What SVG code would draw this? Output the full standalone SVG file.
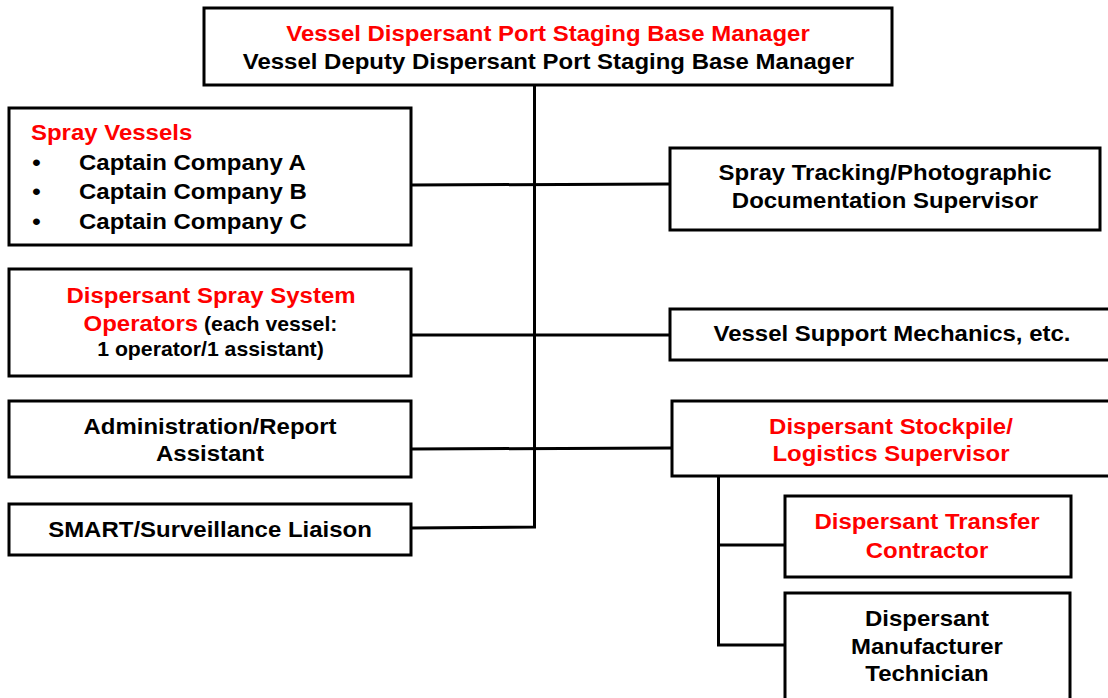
<svg xmlns="http://www.w3.org/2000/svg" width="1108" height="698" viewBox="0 0 1108 698">
  <style>
    .box { fill: #ffffff; stroke: #000000; stroke-width: 3; }
    .link { fill: none; stroke: #000000; stroke-width: 3; }
    text { font-family: "Liberation Sans", Arial, sans-serif; font-weight: bold; font-size: 22px; fill: #000000; }
    .red { fill: #ff0000; }
    .small { font-size: 19.5px; }
    .c { text-anchor: middle; }
  </style>
  <rect width="1108" height="698" fill="#ffffff"/>

  <!-- connectors -->
  <g id="connectors">
    <polyline class="link" points="534.5,85 534.5,527 411,528"/>
    <line class="link" x1="411" y1="185" x2="670" y2="184"/>
    <line class="link" x1="411" y1="335" x2="670" y2="335"/>
    <line class="link" x1="411" y1="449" x2="672" y2="448"/>
    <polyline class="link" points="718.5,476 718.5,645 785,645"/>
    <line class="link" x1="718.5" y1="545" x2="785" y2="545"/>
  </g>

  <!-- labels use a slightly widened face: x positions are divided by 1.09 -->
  <g id="manager">
    <rect class="box" x="204" y="8" width="688" height="77"/>
    <g transform="scale(1.09 1)">
      <text class="c red" x="502.75" y="41">Vessel Dispersant Port Staging Base Manager</text>
      <text class="c" x="503.2" y="69">Vessel Deputy Dispersant Port Staging Base Manager</text>
    </g>
  </g>

  <g id="spray-vessels">
    <rect class="box" x="9" y="108" width="402" height="137"/>
    <g transform="scale(1.09 1)">
      <text class="red" x="28.44" y="140">Spray Vessels</text>
      <text x="29.5" y="170">•</text>
      <text x="72.48" y="170">Captain Company A</text>
      <text x="29.5" y="199">•</text>
      <text x="72.48" y="199">Captain Company B</text>
      <text x="29.5" y="229">•</text>
      <text x="72.48" y="229">Captain Company C</text>
    </g>
  </g>

  <g id="spray-operators">
    <rect class="box" x="9" y="269" width="402" height="107"/>
    <g transform="scale(1.09 1)">
      <text class="c red" x="193.58" y="303">Dispersant Spray System</text>
      <text class="c" x="193.1" y="331"><tspan class="red">Operators</tspan><tspan class="small"> (each vessel:</tspan></text>
      <text class="c small" x="193.1" y="356">1 operator/1 assistant)</text>
    </g>
  </g>

  <g id="admin-assistant">
    <rect class="box" x="9" y="401" width="402" height="76"/>
    <g transform="scale(1.09 1)">
      <text class="c" x="192.66" y="434">Administration/Report</text>
      <text class="c" x="192.66" y="461">Assistant</text>
    </g>
  </g>

  <g id="smart-liaison">
    <rect class="box" x="9" y="504" width="402" height="51"/>
    <g transform="scale(1.09 1)">
      <text class="c" x="192.66" y="537">SMART/Surveillance Liaison</text>
    </g>
  </g>

  <g id="spray-tracking">
    <rect class="box" x="670" y="148" width="430" height="82"/>
    <g transform="scale(1.09 1)">
      <text class="c" x="811.93" y="180">Spray Tracking/Photographic</text>
      <text class="c" x="811.93" y="208">Documentation Supervisor</text>
    </g>
  </g>

  <g id="support-mechanics">
    <rect class="box" x="670" y="309" width="445" height="51"/>
    <g transform="scale(1.09 1)">
      <text class="c" x="818.35" y="341">Vessel Support Mechanics, etc.</text>
    </g>
  </g>

  <g id="stockpile-supervisor">
    <rect class="box" x="672" y="401" width="443" height="75"/>
    <g transform="scale(1.09 1)">
      <text class="c red" x="817.43" y="434">Dispersant Stockpile/</text>
      <text class="c red" x="817.43" y="461">Logistics Supervisor</text>
    </g>
  </g>

  <g id="transfer-contractor">
    <rect class="box" x="785" y="496" width="286" height="81"/>
    <g transform="scale(1.09 1)">
      <text class="c red" x="850.46" y="529">Dispersant Transfer</text>
      <text class="c red" x="850.46" y="558">Contractor</text>
    </g>
  </g>

  <g id="manufacturer-technician">
    <rect class="box" x="785" y="593" width="285" height="110"/>
    <g transform="scale(1.09 1)">
      <text class="c" x="850.46" y="626">Dispersant</text>
      <text class="c" x="850.46" y="654">Manufacturer</text>
      <text class="c" x="850.46" y="681">Technician</text>
    </g>
  </g>
</svg>
